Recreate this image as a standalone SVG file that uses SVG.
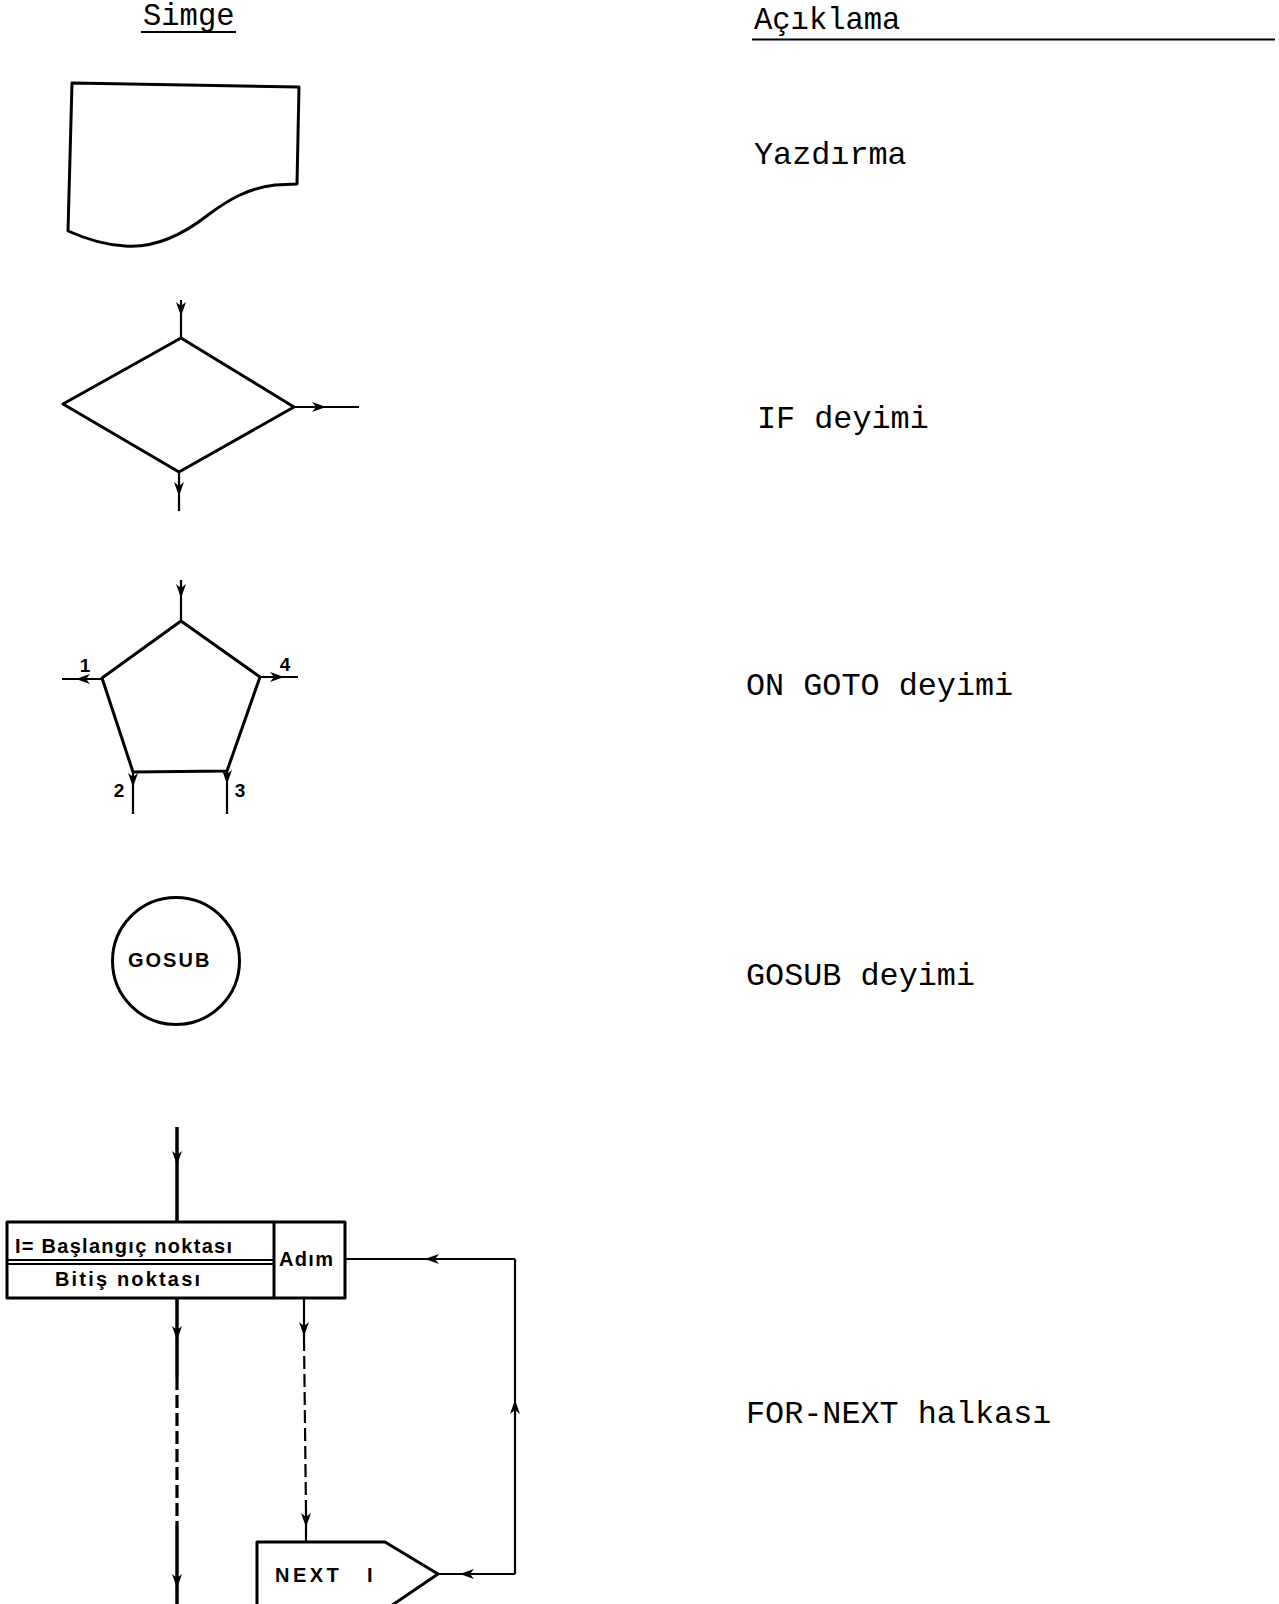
<svg xmlns="http://www.w3.org/2000/svg" width="1279" height="1604" viewBox="0 0 1279 1604">
<style>
.bg{fill:#ffffff}
.sh{fill:none;stroke:#000;stroke-width:3;stroke-linejoin:round}
.ln{fill:none;stroke:#000;stroke-width:2.2}
.thick{fill:none;stroke:#000;stroke-width:3.5}
.thin{fill:none;stroke:#000;stroke-width:3.2}
.dash{stroke-dasharray:13 5}
.arr{marker-mid:url(#ah)}
.mono{font-family:"Liberation Mono","DejaVu Sans Mono",monospace;font-size:31.8px;fill:#000}
.hd{font-family:"Liberation Mono","DejaVu Sans Mono",monospace;font-size:30.5px;fill:#000}
.lbl{font-family:"Liberation Sans","DejaVu Sans",sans-serif;font-weight:bold;fill:#000}
</style>
<defs>
<marker id="ah" viewBox="-14 -5 14 10" refX="0" refY="0" markerWidth="14" markerHeight="10" markerUnits="userSpaceOnUse" orient="auto">
<path d="M0,0 L-14,-5 L-10,0 L-14,5 Z" fill="#000"/>
</marker>
</defs>
<rect class="bg" x="0" y="0" width="1279" height="1604"/>

<g id="headers">
<text class="hd" x="143" y="25">Simge</text>
<line class="ln" x1="141" y1="32" x2="236" y2="32"/>
<text class="hd" x="754" y="29">Açıklama</text>
<line class="ln" x1="752" y1="39.5" x2="1275" y2="39.5"/>
</g>

<g id="print">
<path class="sh" d="M72,83 L299,87 L297,184 L275,185 C248,188 228,200 208,215 C180,237 152,248 125,246 C104,245 86,239 68,231 Z"/>
<text class="mono" x="754" y="164">Yazdırma</text>
</g>

<g id="if">
<polygon class="sh" points="63,404 181,338 294,407 179,472"/>
<text class="mono" x="757" y="428">IF deyimi</text>
</g>

<g id="ongoto">
<polygon class="sh" points="181,621 260,677 227,771 133,772 102,678"/>
<text class="lbl" x="85" y="672" font-size="19" text-anchor="middle">1</text>
<text class="lbl" x="285" y="671" font-size="19" text-anchor="middle">4</text>
<text class="lbl" x="119" y="797" font-size="19" text-anchor="middle">2</text>
<text class="lbl" x="240" y="797" font-size="19" text-anchor="middle">3</text>
<text class="mono" x="746" y="695">ON GOTO deyimi</text>
</g>

<g id="gosub">
<circle class="sh" cx="176" cy="961" r="63.5"/>
<text class="lbl" x="128" y="967" font-size="20" letter-spacing="2">GOSUB</text>
<text class="mono" x="746" y="985">GOSUB deyimi</text>
</g>

<g id="for">
<rect class="sh" x="7" y="1222" width="338" height="76"/>
<line class="sh" x1="274" y1="1222" x2="274" y2="1298"/>
<line class="ln" x1="7" y1="1260" x2="274" y2="1260"/>
<line class="ln" x1="7" y1="1264" x2="274" y2="1264"/>
<text class="lbl" x="15" y="1253" font-size="20" textLength="217" lengthAdjust="spacing">I= Başlangıç noktası</text>
<text class="lbl" x="55" y="1286" font-size="20" textLength="145" lengthAdjust="spacing">Bitiş noktası</text>
<text class="lbl" x="279" y="1266" font-size="20" textLength="54" lengthAdjust="spacing">Adım</text>
</g>

<g id="next">
<path class="sh" d="M257,1610 L257,1542 L385,1542 L438,1574 L385,1610"/>
<text class="lbl" x="275" y="1582" font-size="20" letter-spacing="3.5">NEXT <tspan x="367">I</tspan></text>
</g>

<g id="desc">
<text class="mono" x="746" y="1423">FOR-NEXT halkası</text>
</g>

<g id="connectors">
<path class="ln arr" d="M181,300 L181,316 L181,338"/>
<path class="ln arr" d="M294,407 L326,407 L359,407"/>
<path class="ln arr" d="M179,472 L179,496 L179,511"/>
<path class="ln arr" d="M181,580 L181,598 L181,621"/>
<path class="ln arr" d="M102,679 L76,679 L62,679"/>
<path class="ln arr" d="M260,677 L284,677 L298,677"/>
<path class="ln arr" d="M133,772 L133,787 L133,814"/>
<path class="ln arr" d="M227,771 L227,784 L227,814"/>
<path class="thick arr" d="M177,1127 L177,1165 L177,1222"/>
<path class="thick arr" d="M177,1298 L177,1340 L177,1377"/>
<path class="thin dash" d="M177,1377 L177,1525"/>
<path class="thick arr" d="M177,1525 L177,1588 L177,1604"/>
<path class="ln arr" d="M304,1298 L304,1336 L304,1338"/>
<path class="ln dash" d="M304,1338 L306,1512"/>
<path class="ln arr" d="M306,1512 L306,1527 L306,1542"/>
<path class="ln arr" d="M515,1259 L425,1259 L345,1259"/>
<path class="ln arr" d="M515,1574 L515,1400 L515,1259"/>
<path class="ln arr" d="M515,1574 L460,1574 L438,1574"/>
</g>
</svg>
